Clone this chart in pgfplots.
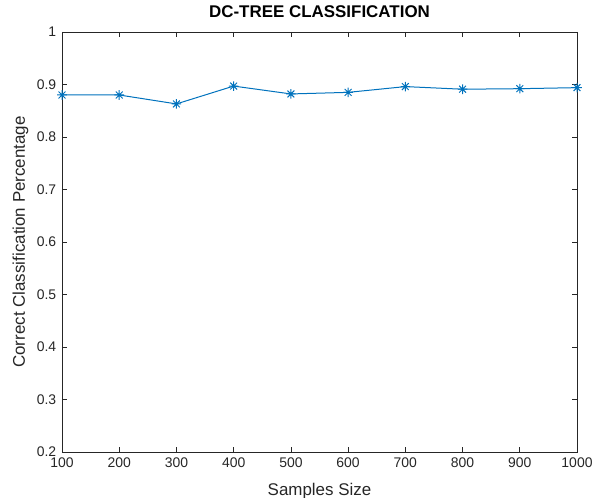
\documentclass[border=0pt]{standalone}
\usepackage{pgfplots}
\pgfplotsset{compat=1.18}
\usepackage{fontspec}
\setmainfont{Liberation Sans}
\definecolor{mblue}{rgb}{0,0.447,0.741}
% MATLAB-style '*' marker: plus and cross on top of each other
\pgfdeclareplotmark{mstar}{%
  \pgfpathmoveto{\pgfqpoint{-\pgfplotmarksize}{0pt}}\pgfpathlineto{\pgfqpoint{\pgfplotmarksize}{0pt}}%
  \pgfpathmoveto{\pgfqpoint{0pt}{-\pgfplotmarksize}}\pgfpathlineto{\pgfqpoint{0pt}{\pgfplotmarksize}}%
  \pgfpathmoveto{\pgfqpoint{-0.71\pgfplotmarksize}{-0.71\pgfplotmarksize}}\pgfpathlineto{\pgfqpoint{0.71\pgfplotmarksize}{0.71\pgfplotmarksize}}%
  \pgfpathmoveto{\pgfqpoint{-0.71\pgfplotmarksize}{0.71\pgfplotmarksize}}\pgfpathlineto{\pgfqpoint{0.71\pgfplotmarksize}{-0.71\pgfplotmarksize}}%
  \pgfusepathqstroke}
\begin{document}
\begin{tikzpicture}
\begin{axis}[
    name=main,
    scale only axis,
    width=515bp,
    height=420bp,
    xmin=100, xmax=1000,
    ymin=0.2, ymax=1,
    xtick={100,200,...,1000},
    ytick={0.2,0.3,...,1.0},
    yticklabels={0.2,0.3,0.4,0.5,0.6,0.7,0.8,0.9,1},
    tick align=inside,
    tick pos=both,
    major tick length=5bp,
    axis line style={black!85, line width=0.6pt},
    tick style={black!85, line width=0.6pt},
    /pgf/number format/assume math mode=true,
    /pgf/number format/set thousands separator={},
    tick label style={font=\fontsize{14}{16}\selectfont, text=black!85},
    xticklabel style={anchor=base, yshift=-15.5bp},
    yticklabel style={xshift=-2.3bp},
    xlabel={Samples Size},
    ylabel={Correct Classification Percentage},
    label style={font=\fontsize{17}{19}\selectfont, text=black!85},
    xlabel style={at={(axis description cs:0.5,0)}, anchor=base, yshift=-43bp},
    % rotated label: yshift moves it to the left
    ylabel style={at={(axis description cs:0,0.5)}, anchor=base, yshift=37bp},
    title={DC-TREE CLASSIFICATION},
    title style={font=\bfseries\fontsize{17}{19}\selectfont,
                 at={(axis description cs:0.5,1)}, anchor=base, yshift=9bp},
]
\addplot[color=mblue, line width=1bp, mark=mstar, mark size=4.8bp, mark options={line width=1bp}] coordinates {
    (100,0.880) (200,0.880) (300,0.863) (400,0.897) (500,0.882)
    (600,0.885) (700,0.896) (800,0.891) (900,0.892) (1000,0.894)
};
\end{axis}
% page frame with the reference's margins round the axis
\pgfresetboundingbox
\path ([shift={(-62bp,-46bp)}]main.south west) rectangle ([shift={(17bp,32bp)}]main.north east);
\end{tikzpicture}
\end{document}
